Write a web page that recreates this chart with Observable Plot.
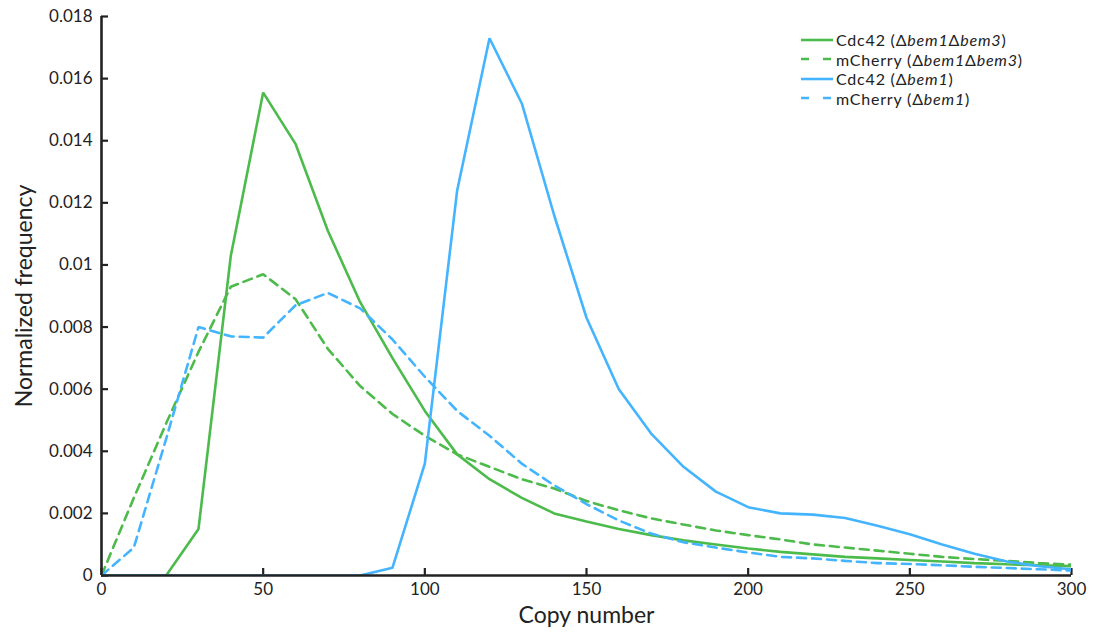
<!DOCTYPE html>
<html>
<head>
<meta charset="utf-8">
<script src="https://cdn.jsdelivr.net/npm/d3@7"></script>
<script src="https://cdn.jsdelivr.net/npm/@observablehq/plot@0.6"></script>
<style>
  html, body { margin: 0; padding: 0; background: #fff; }
  #wrap { position: relative; width: 1095px; height: 635px; font-family: Lato, "Open Sans", sans-serif; color: #222; }
  #legend { position: absolute; left: 800px; top: 30px; font-size: 16px; line-height: 19.5px; letter-spacing: 0.8px; }
  #legend .row { display: flex; align-items: center; white-space: nowrap; height: 19.5px; }
  #legend svg { margin-right: 3px; }
</style>
</head>
<body>
<div id="wrap"><div id="chart"></div><div id="legend"></div></div>
<script>
const copyNumber = [0,10,20,30,40,50,60,70,80,90,100,110,120,130,140,150,160,170,180,190,200,210,220,230,240,250,260,270,280,290,300];
const cdc42Bem1Bem3 = [0,0,0,0.0015,0.0103,0.01555,0.0139,0.0111,0.0088,0.0070,0.0053,0.0039,0.0031,0.0025,0.0020,0.00174,0.0015,0.0013,0.00113,0.0010,0.00087,0.00076,0.00068,0.0006,0.00055,0.0005,0.00045,0.0004,0.00036,0.00033,0.0003];
const mCherryBem1Bem3 = [0,0.0025,0.0049,0.0072,0.0093,0.0097,0.0089,0.0073,0.0061,0.0052,0.0045,0.0039,0.0035,0.0031,0.0028,0.0024,0.0021,0.00184,0.00164,0.00145,0.0013,0.00116,0.001,0.0009,0.0008,0.0007,0.0006,0.00053,0.00047,0.0004,0.00035];
const cdc42Bem1 = [0,0,0,0,0,0,0,0,0,0.00025,0.0036,0.0124,0.0173,0.0152,0.0116,0.0083,0.0060,0.00457,0.0035,0.0027,0.0022,0.0020,0.00196,0.00185,0.0016,0.00133,0.001,0.0007,0.00045,0.0003,0.0002];
const mCherryBem1 = [0,0.0009,0.0044,0.0080,0.0077,0.00766,0.0087,0.0091,0.0086,0.0076,0.0064,0.0053,0.0045,0.0036,0.0029,0.0023,0.00177,0.00135,0.00107,0.0009,0.00074,0.0006,0.00055,0.00047,0.0004,0.00037,0.00033,0.00028,0.00024,0.0002,0.00016];
const xTicks = [0,50,100,150,200,250,300];
const yTicks = [0,0.002,0.004,0.006,0.008,0.01,0.012,0.014,0.016,0.018];
const yTickLabels = ["0","0.002","0.004","0.006","0.008","0.01","0.012","0.014","0.016","0.018"];

const green = "#4CBB4C", blue = "#44B4FF";
const series = [
  {key: "c33", label: ["Cdc42 (", "Δbem1Δbem3", ")"], values: cdc42Bem1Bem3, color: green, dash: null},
  {key: "m33", label: ["mCherry (", "Δbem1Δbem3", ")"], values: mCherryBem1Bem3, color: green, dash: "9,6"},
  {key: "c1", label: ["Cdc42 (", "Δbem1", ")"], values: cdc42Bem1, color: blue, dash: null},
  {key: "m1", label: ["mCherry (", "Δbem1", ")"], values: mCherryBem1, color: blue, dash: "9,6"}
];
const rows = s => copyNumber.map((x, i) => ({x, y: s.values[i]}));

const W = 1095, H = 635, ML = 101, MR = 24, MT = 16, MB = 60;
const plot = Plot.plot({
  width: W,
  height: H,
  marginLeft: ML,
  marginRight: MR,
  marginTop: MT,
  marginBottom: MB,
  style: {fontFamily: "Lato, 'Open Sans', sans-serif", fontSize: "17px", color: "#222", background: "#fff"},
  x: {domain: [0, 300]},
  y: {domain: [0, 0.018]},
  marks: [
    Plot.axisX({ticks: xTicks, tickSize: 0, tickPadding: 7, tickFormat: d => String(d), fontSize: 17, label: null}),
    Plot.axisY({ticks: yTicks, tickSize: 0, tickPadding: 9, tickFormat: (d, i) => yTickLabels[i], fontSize: 17, label: null}),
    Plot.ruleX(xTicks, {stroke: "#222", strokeWidth: 2.2, insetTop: (H - MT - MB) - 7}),
    Plot.ruleY(yTicks, {stroke: "#222", strokeWidth: 2.2, insetRight: (W - ML - MR) - 7}),
    Plot.text(["Copy number"], {frameAnchor: "bottom", dy: 47, fontSize: 23, fill: "#222", textAnchor: "middle"}),
    Plot.text(["Normalized frequency"], {frameAnchor: "left", dx: -77, rotate: -90, fontSize: 23, fill: "#222", textAnchor: "middle"}),
    ...series.map(s => Plot.line(rows(s), {x: "x", y: "y", stroke: s.color, strokeWidth: 2.6, strokeDasharray: s.dash, strokeLinejoin: "miter", clip: true})),
    Plot.ruleX([0], {stroke: "#222", strokeWidth: 2.6}),
    Plot.ruleY([0], {stroke: "#222", strokeWidth: 2.6})
  ]
});
document.getElementById("chart").appendChild(plot);

const leg = document.getElementById("legend");
for (const s of series) {
  const row = document.createElement("div");
  row.className = "row";
  row.innerHTML = `<svg width="33" height="10"><line x1="1" x2="33" y1="5" y2="5" stroke="${s.color}" stroke-width="2.6" ${s.dash ? 'stroke-dasharray="8,14"' : ''}/></svg><span>${s.label[0]}<i>${s.label[1].replace(/Δ/g, '<span style="font-style:normal">Δ</span>')}</i>${s.label[2]}</span>`;
  leg.appendChild(row);
}
</script>
</body>
</html>
